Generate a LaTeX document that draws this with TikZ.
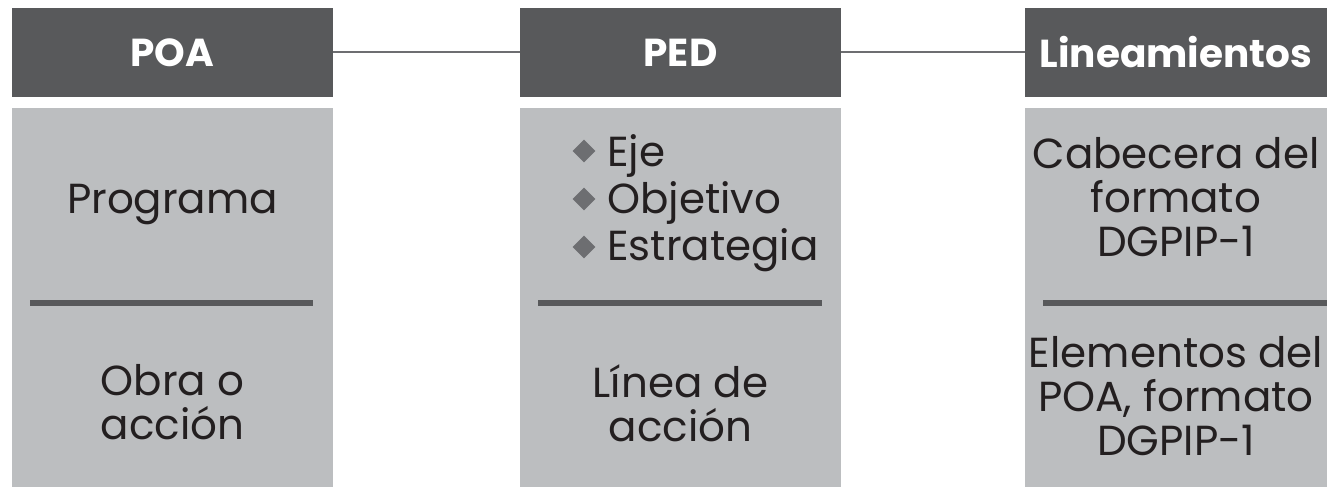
\documentclass[tikz,border=0pt]{standalone}
\usepackage{fontspec}
\setmainfont{Poppins}
\usetikzlibrary{positioning,shapes.geometric}
\definecolor{headgray}{HTML}{58595B}
\definecolor{bodygray}{HTML}{BCBEC0}
\definecolor{inkblack}{HTML}{231F20}
\definecolor{markgray}{HTML}{6D6E71}
\tikzset{
  header/.style={fill=headgray,text=white,inner sep=0pt,minimum height=44.5pt,
    font=\fontsize{19.5}{22}\selectfont\bfseries},
  panel/.style={fill=bodygray,inner sep=0pt,minimum height=189.5pt},
  bodytext/.style={text=inkblack,align=center,inner sep=0pt,
    font=\fontsize{21}{22}\selectfont},
  bullet/.style={diamond,fill=markgray,inner sep=0pt,minimum size=11.5pt},
  link/.style={draw=markgray,line width=1pt},
  divider/.style={draw=headgray,line width=2.6pt}
}
\begin{document}
\begin{tikzpicture}[x=0.5pt,y=-0.5pt]
  \fill[white] (0,0) rectangle (1327,496);
  \useasboundingbox (0,0) rectangle (1327,496);
  %% headers
  \node[header,minimum width=160.5pt] (poa) at (172.5,52.5) {POA};
  \node[header,minimum width=160.5pt] (ped) at (680.5,52.5) {PED};
  \node[header,minimum width=151pt] (lin) at (1176,52.5) {Lineamientos};
  %% links
  \draw[link] (poa.east) -- (ped.west);
  \draw[link] (ped.east) -- (lin.west);
  %% panels
  \node[panel,minimum width=160.5pt] (poabox) at (172.5,297.5) {};
  \node[panel,minimum width=160.5pt] (pedbox) at (680.5,297.5) {};
  \node[panel,minimum width=151pt] (linbox) at (1176,297.5) {};
  %% dividers
  \draw[divider] (30,303) -- (313,303);
  \draw[divider] (538,303) -- (822,303);
  \draw[divider] (1043,303) -- (1327,303);
  %% POA
  \node[bodytext] (prog) at (172.5,205) {Programa};
  \node[bodytext] (obra) at (172.5,402) {Obra o\\acción};
  %% PED
  \node[bodytext,anchor=base west] (eje) at (607,167) {Eje};
  \node[bodytext,anchor=base west] (obj) at (607,214) {Objetivo};
  \node[bodytext,anchor=base west] (est) at (607,261) {Estrategia};
  \node[bullet] (b1) at (584,151) {};
  \node[bullet] (b2) at (584,199) {};
  \node[bullet] (b3) at (584,247) {};
  \node[bodytext] (lac) at (680.5,403) {Línea de\\acción};
  %% Lineamientos
  \node[bodytext] (cab) at (1176,197) {Cabecera del\\formato\\DGPIP-1};
  \node[bodytext] (ele) at (1176,396) {Elementos del\\POA, formato\\DGPIP-1};
\end{tikzpicture}
\end{document}
